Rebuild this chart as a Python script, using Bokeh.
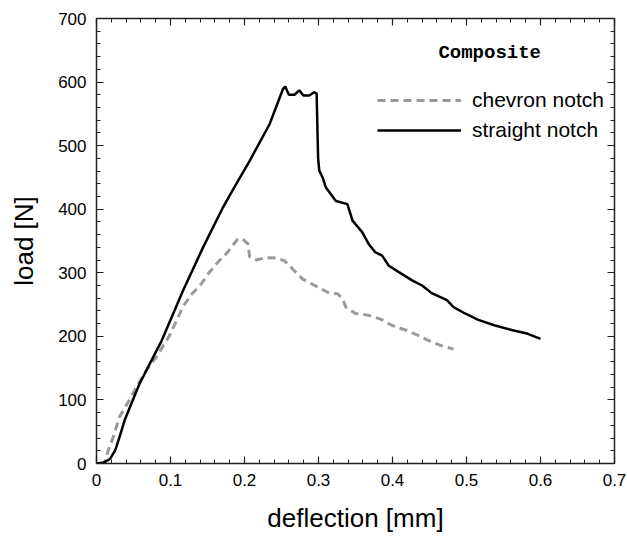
from bokeh.plotting import figure
from bokeh.models import (Range1d, FixedTicker, LinearAxis, Legend, LegendItem, Label,
                          CustomLabelingPolicy)
from bokeh.embed import file_html
from bokeh.resources import INLINE

# ---- data ----
straight_x = [0, 0.009, 0.018, 0.025, 0.031, 0.038, 0.045, 0.058, 0.072, 0.088,
              0.117, 0.144, 0.171, 0.185, 0.207, 0.234, 0.252, 0.255, 0.260, 0.2675,
              0.274, 0.2796, 0.2876, 0.294, 0.2975, 0.2988, 0.2995, 0.301, 0.3055, 0.310,
              0.3235, 0.339, 0.346, 0.359, 0.368, 0.377, 0.386, 0.395, 0.4086, 0.4265,
              0.44, 0.453, 0.4735, 0.4825, 0.498, 0.516, 0.5385, 0.561, 0.583, 0.600]
straight_y = [0, 1, 7, 20, 41, 68, 88, 125, 157, 193,
              272, 340, 403, 432, 476, 534, 589, 593, 580, 580,
              587, 579, 579, 584, 582, 513, 480, 461, 450, 434,
              413, 408, 382, 364, 345, 332, 327, 311, 301, 288,
              280, 268, 257, 246, 236, 226, 217, 210, 204, 196]

chevron_x = [0.004, 0.011, 0.0157, 0.0224, 0.031, 0.0425, 0.054, 0.067, 0.0806, 0.0985,
             0.117, 0.129, 0.14, 0.152, 0.165, 0.177, 0.19, 0.197, 0.2047, 0.207,
             0.216, 0.229, 0.243, 0.254, 0.265, 0.2786, 0.2966, 0.3145, 0.3257, 0.3324,
             0.337, 0.35, 0.368, 0.384, 0.3996, 0.4176, 0.4355, 0.453, 0.467, 0.4825]
chevron_y = [0, 2, 20, 41, 73, 96, 120, 146, 167, 201,
             247, 267, 280, 300, 318, 332, 352, 354, 345, 325,
             320, 324, 323, 319, 306, 290, 279, 268, 267, 259,
             246, 236, 233, 227, 217, 210, 201, 191, 185, 180]

x_ticks = [0, 0.1, 0.2, 0.3, 0.4, 0.5, 0.6, 0.7]
x_tick_labels = ["0", "0.1", "0.2", "0.3", "0.4", "0.5", "0.6", "0.7"]
x_minor = [round(i * 0.02, 2) for i in range(36)]
y_ticks = [0, 100, 200, 300, 400, 500, 600, 700]
y_minor = [i * 20 for i in range(36)]

series_names = ["chevron notch", "straight notch"]
panel_title = "Composite"

# ---- figure ----
p = figure(frame_width=518, frame_height=445,
           min_border_left=96, min_border_top=18, min_border_right=13, min_border_bottom=73,
           x_range=Range1d(0, 0.7), y_range=Range1d(0, 700),
           output_backend="svg", toolbar_location=None)
p.xgrid.visible = False
p.ygrid.visible = False
p.outline_line_color = None
p.background_fill_color = "white"
p.border_fill_color = "white"

r_chev = p.line(chevron_x, chevron_y, line_color="#9a9a9a", line_width=3, line_dash="8 5")
r_str = p.line(straight_x, straight_y, line_color="black", line_width=2.5)

FONT = "Liberation Sans"
xt = FixedTicker(ticks=x_ticks, minor_ticks=x_minor)
yt = FixedTicker(ticks=y_ticks, minor_ticks=y_minor)

hide_all = CustomLabelingPolicy(code="""
    for (const i of Array.from(indices)) indices.unset(i)
    return indices
""")


def style(ax, show_labels):
    ax.axis_line_color = "#222222"
    ax.axis_line_width = 1.5
    ax.major_tick_line_color = "#222222"
    ax.minor_tick_line_color = "#222222"
    ax.major_tick_line_width = 1.2
    ax.minor_tick_line_width = 1.0
    ax.major_tick_in = 7
    ax.major_tick_out = 0
    ax.minor_tick_in = 4
    ax.minor_tick_out = 0
    ax.major_label_text_font = FONT
    ax.major_label_text_color = "black"
    ax.major_label_text_font_size = "17px"
    if show_labels:
        ax.major_label_standoff = 10
    else:
        ax.major_label_standoff = 0
        ax.major_label_policy = hide_all


xa = p.xaxis[0]
xa.ticker = xt
xa.major_label_overrides = {t: s for t, s in zip(x_ticks, x_tick_labels)}
style(xa, True)
xa.axis_label = "deflection [mm]"
xa.axis_label_text_font = FONT
xa.axis_label_text_font_size = "26px"
xa.axis_label_text_font_style = "normal"
xa.axis_label_text_color = "black"
xa.axis_label_standoff = 14

ya = p.yaxis[0]
ya.ticker = yt
style(ya, True)
ya.axis_label = "load [N]"
ya.axis_label_text_font = FONT
ya.axis_label_text_font_size = "26px"
ya.axis_label_text_font_style = "normal"
ya.axis_label_text_color = "black"
ya.axis_label_standoff = 16

top = LinearAxis(ticker=xt)
style(top, False)
p.add_layout(top, "above")
right = LinearAxis(ticker=yt)
style(right, False)
p.add_layout(right, "right")

legend = Legend(items=[LegendItem(label=series_names[0], renderers=[r_chev]),
                       LegendItem(label=series_names[1], renderers=[r_str])],
                location=(281, 321), padding=0, margin=0, spacing=6,
                glyph_width=84, glyph_height=20, label_height=20, label_standoff=11,
                label_text_font=FONT, label_text_font_size="21px", label_text_color="black",
                border_line_color=None, background_fill_alpha=0)
p.add_layout(legend, "center")

p.add_layout(Label(x=0.462, y=646, text=panel_title, text_font="Liberation Mono",
                   text_font_style="bold", text_font_size="19px", text_color="black",
                   text_baseline="middle", text_align="left"))

open("out.html", "w").write(file_html(p, INLINE))
